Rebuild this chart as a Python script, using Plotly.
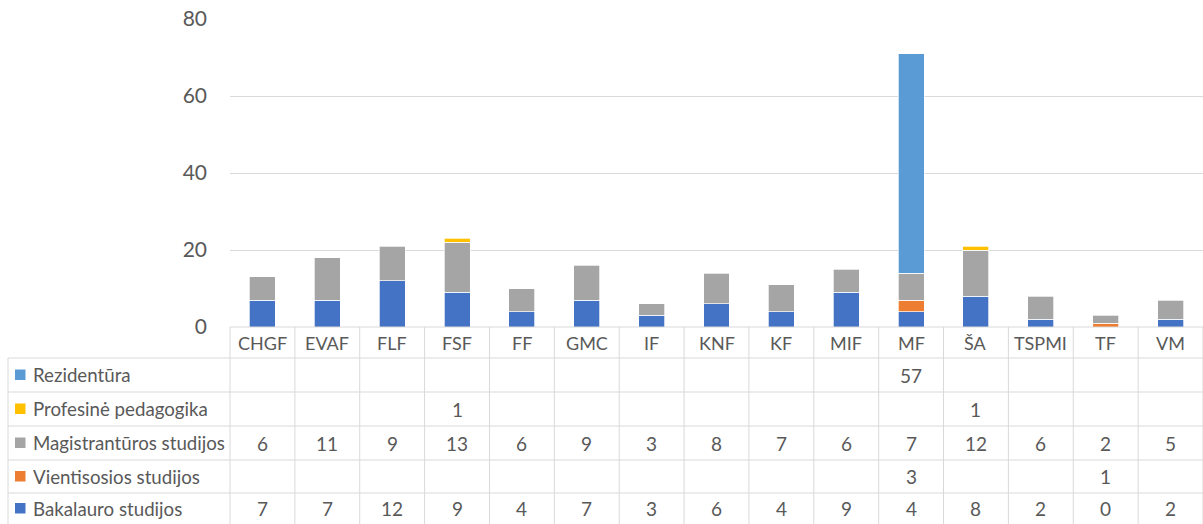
import plotly.graph_objects as go

categories = ["CHGF", "EVAF", "FLF", "FSF", "FF", "GMC", "IF", "KNF", "KF", "MIF", "MF", "ŠA", "TSPMI", "TF", "VM"]
bakalauro = [7, 7, 12, 9, 4, 7, 3, 6, 4, 9, 4, 8, 2, 0, 2]
vientisosios = [None, None, None, None, None, None, None, None, None, None, 3, None, None, 1, None]
magistranturos = [6, 11, 9, 13, 6, 9, 3, 8, 7, 6, 7, 12, 6, 2, 5]
profesine = [None, None, None, 1, None, None, None, None, None, None, None, 1, None, None, None]
rezidentura = [None, None, None, None, None, None, None, None, None, None, 57, None, None, None, None]

series_names = ["Bakalauro studijos", "Vientisosios studijos", "Magistrantūros studijos",
                "Profesinė pedagogika", "Rezidentūra"]
series_values = [bakalauro, vientisosios, magistranturos, profesine, rezidentura]
series_colors = ["#4472C4", "#ED7D31", "#A5A5A5", "#FFC000", "#5B9BD5"]
y_ticks = [0, 20, 40, 60, 80]

W, H = 1203, 524
L, R, T, B = 230, 0, 19, 197
plot_w = W - L - R
plot_h = H - T - B
FONT = "Lato"
TXT = "#595959"
LINE = "#D9D9D9"

def px_x(p):
    return (p - L) / plot_w

def px_y(p):
    return (H - B - p) / plot_h

fig = go.Figure()
for name, vals, col in zip(series_names, series_values, series_colors):
    fig.add_trace(go.Bar(x=categories, y=vals, name=name, marker_color=col,
                         marker_line_width=0.7, marker_line_color="#FFFFFF", showlegend=False))

shapes = []
annotations = []

header_top = 327
row_edges = [358, 392, 426, 460, 493, 526]
left_edge = 8

shapes.append(dict(type="line", xref="paper", yref="paper", x0=0, x1=1,
                   y0=px_y(header_top), y1=px_y(header_top), line=dict(color=LINE, width=1)))
for e in row_edges:
    shapes.append(dict(type="line", xref="paper", yref="paper", x0=px_x(left_edge), x1=1,
                       y0=px_y(e), y1=px_y(e), line=dict(color=LINE, width=1)))
shapes.append(dict(type="line", xref="paper", yref="paper", x0=px_x(left_edge), x1=px_x(left_edge),
                   y0=px_y(row_edges[0]), y1=px_y(row_edges[-1]), line=dict(color=LINE, width=1)))
shapes.append(dict(type="line", xref="paper", yref="paper", x0=0, x1=0,
                   y0=px_y(header_top), y1=px_y(row_edges[-1]), line=dict(color=LINE, width=1)))
for i in range(len(categories)):
    shapes.append(dict(type="line", xref="x", yref="paper", x0=i + 0.5, x1=i + 0.5,
                       y0=px_y(header_top), y1=px_y(row_edges[-1]), line=dict(color=LINE, width=1)))

for c in categories:
    annotations.append(dict(x=c, xref="x", y=px_y((header_top + row_edges[0]) / 2), yref="paper",
                            text=c, showarrow=False, font=dict(family=FONT, size=18, color=TXT),
                            xanchor="center", yanchor="middle"))

table_rows = list(zip(series_names, series_values, series_colors))[::-1]
for r, (name, vals, col) in enumerate(table_rows):
    yc = (row_edges[r] + row_edges[r + 1]) / 2 if r < 4 else 508.5
    shapes.append(dict(type="rect", xref="paper", yref="paper", x0=px_x(15), x1=px_x(25.5),
                       y0=px_y(yc + 5), y1=px_y(yc - 5.5), fillcolor=col, line=dict(width=0)))
    annotations.append(dict(x=px_x(31), xref="paper", y=px_y(yc), yref="paper", text=name,
                            showarrow=False, font=dict(family=FONT, size=18.7, color=TXT),
                            xanchor="left", yanchor="middle"))
    for c, v in zip(categories, vals):
        if v is None:
            continue
        annotations.append(dict(x=c, xref="x", y=px_y(yc), yref="paper", text=str(v),
                                showarrow=False, font=dict(family=FONT, size=19, color=TXT),
                                xanchor="center", yanchor="middle"))

fig.update_layout(
    width=W, height=H,
    margin=dict(l=L, r=R, t=T, b=B, pad=0),
    barmode="stack", bargap=0.6,
    plot_bgcolor="white", paper_bgcolor="white",
    shapes=shapes, annotations=annotations,
    xaxis=dict(type="category", showticklabels=False, showgrid=False, zeroline=False,
               showline=False, ticks="", range=[-0.5, len(categories) - 0.5]),
    yaxis=dict(range=[0, 80], tickvals=y_ticks, showgrid=True, gridcolor=LINE, gridwidth=1,
               zeroline=False, showline=False, ticks="", ticklabelstandoff=22,
               tickfont=dict(family=FONT, size=21, color=TXT)),
)

fig.write_html("out.html", config={"displayModeBar": False},
               post_script="document.body.style.margin='0';document.body.style.padding='0';")
